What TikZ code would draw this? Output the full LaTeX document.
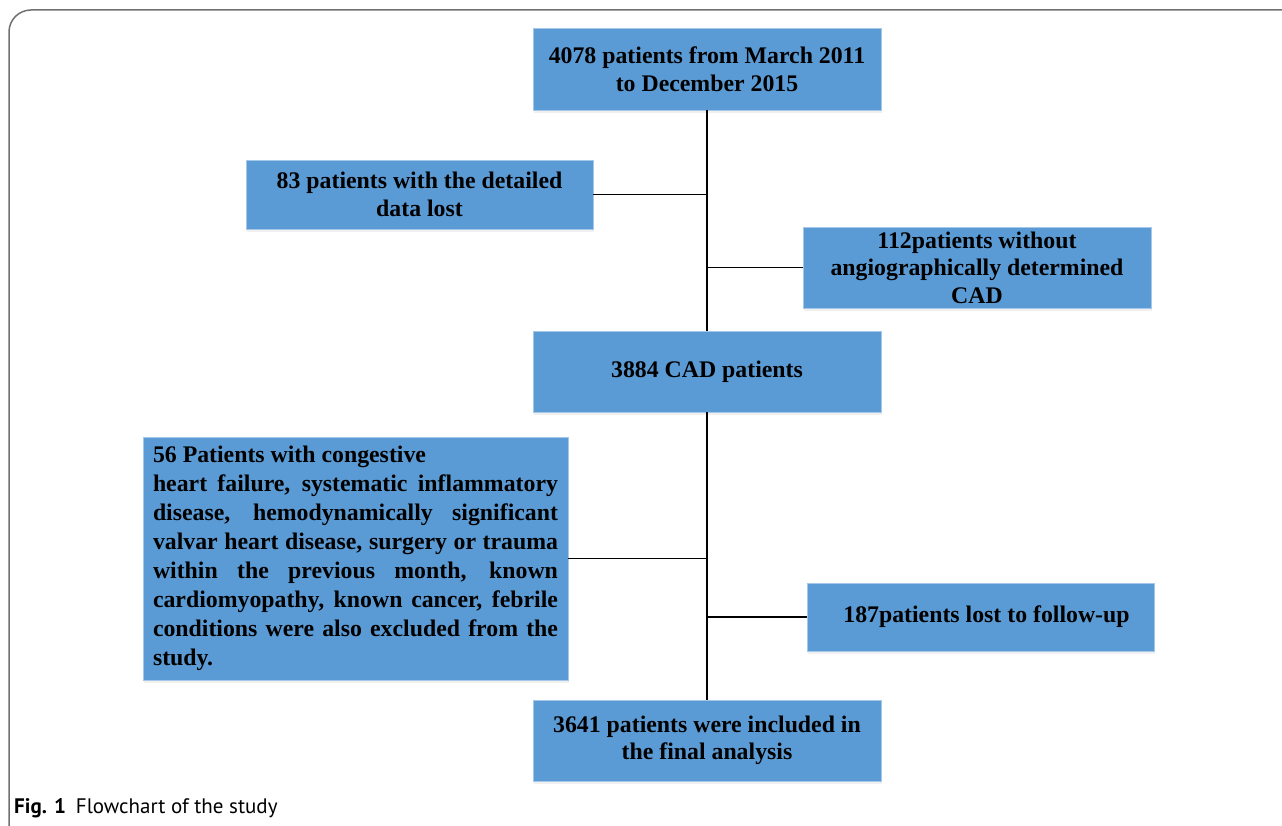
\documentclass[tikz,border=0pt]{standalone}
\usepackage{fontspec}
\setmainfont{Liberation Serif}
\newfontfamily\captionfont{PT Sans}
\usetikzlibrary{shadows}
\definecolor{BoxColor}{RGB}{91,155,213}
\definecolor{FrameColor}{RGB}{112,112,112}
\tikzstyle{stage} = [rectangle, fill=BoxColor, draw=BoxColor!55!white, line width=0.8pt, inner sep=0pt, align=center, font=\fontsize{23.8}{27.5}\selectfont\bfseries, drop shadow={opacity=0.12, shadow xshift=1pt, shadow yshift=-3pt}]
\tikzstyle{link} = [line width=1.7pt, black]
\begin{document}
\begin{tikzpicture}[x=1pt, y=-1pt]
    \useasboundingbox (0,0) rectangle (1282,826);
    % Frame
    \draw[FrameColor, line width=1.5pt, rounded corners=22pt] (9,10) rectangle (1330,848);

    % Main stages
    \node[stage, minimum width=348pt, minimum height=82pt] (start) at (707,69) {4078 patients from March 2011\\to December 2015};
    \node[stage, minimum width=348pt, minimum height=81pt] (cad) at (707,371.5) {3884 CAD patients};
    \node[stage, minimum width=348pt, minimum height=81pt] (final) at (707,740.5) {3641 patients were included in\\the final analysis};

    % Exclusions
    \node[stage, minimum width=347pt, minimum height=69pt] (lost) at (419.5,194.5) {83 patients with the detailed\\data lost};
    \node[stage, minimum width=348pt, minimum height=81pt] (nocad) at (977,267.5) {112patients without\\angiographically determined\\CAD};
    \node[stage, minimum width=425pt, minimum height=243pt, text width=405pt, align=justify, font=\fontsize{23.8}{29}\selectfont\bfseries] (excl) at (355.5,558.5) {56 Patients with congestive\\
        heart failure, systematic inflammatory\linebreak
        disease, hemodynamically significant\linebreak
        valvar heart disease, surgery or trauma\linebreak
        within the previous month, known\linebreak
        cardiomyopathy, known cancer, febrile\linebreak
        conditions were also excluded from the\linebreak
        study.};
    \node[stage, minimum width=347pt, minimum height=68pt] (follow) at (980.5,617) {\hspace{12pt}187patients lost to follow-up};

    % Connectors
    \draw[link] (start.south) -- (cad.north);
    \draw[link] (cad.south) -- (final.north);
    \draw[link] (lost.east) -- (lost.east -| start.south);
    \draw[link] (nocad.west) -- (nocad.west -| start.south);
    \draw[link] (excl.east) -- (excl.east -| cad.south);
    \draw[link] (follow.west) -- (follow.west -| cad.south);

    % Caption
    \node[anchor=base west, inner sep=0pt, font=\captionfont\fontsize{21}{25}\selectfont] (caption) at (14,813) {\textbf{Fig. 1}\hspace{10pt}Flowchart of the study};
\end{tikzpicture}
\end{document}
